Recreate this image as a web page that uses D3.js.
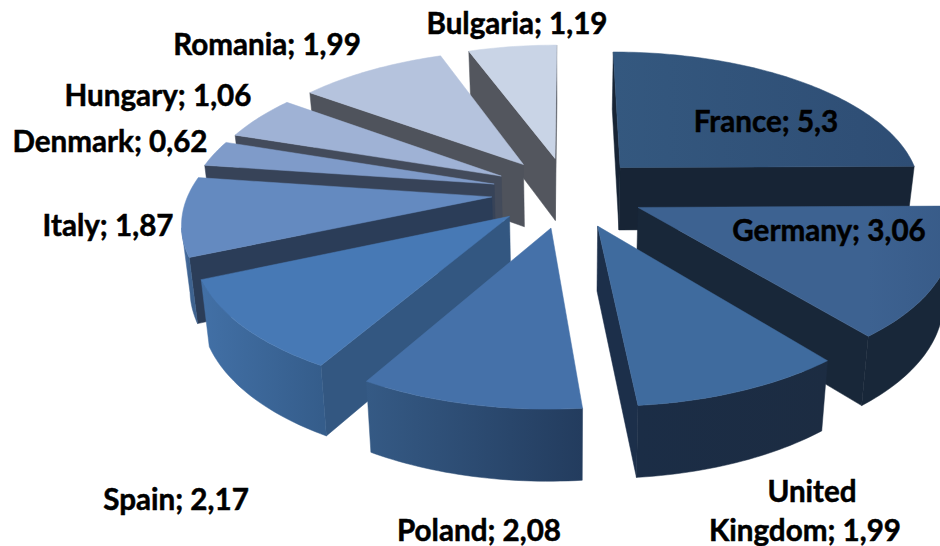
<!DOCTYPE html>
<html><head><meta charset="utf-8">
<style>body{margin:0;background:#fff}</style>
<script src="https://cdn.jsdelivr.net/npm/d3@7"></script></head>
<body><svg id="chart" width="940" height="546"></svg>
<script>
// Data
const categories = ["France","Germany","United Kingdom","Poland","Spain","Italy","Denmark","Hungary","Romania","Bulgaria"];
const values = [5.3,3.06,1.99,2.08,2.17,1.87,0.62,1.06,1.99,1.19];
const valueLabels = ["5,3","3,06","1,99","2,08","2,17","1,87","0,62","1,06","1,99","1,19"];

// Colours per slice: top face [left,right], radial wall, outer wall [left,right]
const topColors = [["#34587f","#2e4d74"],["#3d6291","#385b88"],["#3f6b9e","#3f6b9e"],["#4571a9","#4571a9"],["#4779b5","#4779b5"],["#648ac0","#648ac0"],["#7f9bc9","#7f9bc9"],["#9fb2d5","#9fb2d5"],["#b5c3dd","#b5c3dd"],["#c9d4e6","#c9d4e6"]];
const sideColors = ["#172435","#182739","#1c2f4a","#2a4568","#335781","#2b3d58","#374358","#434b5b","#4f535c","#53565e"];
const rimColors = [["#172435","#172435"],["#182739","#182739"],["#1b2d46","#1c2c42"],["#355a85","#233c5e"],["#4270a6","#355d8b"],["#4f76ad","#3d628f"],["#5e7ca7","#5e7ca7"],["#6f83a5","#6f83a5"],["#7d8aa3","#7d8aa3"],["#8a94a6","#8a94a6"]];

// Label anchors [x, baseline] for each line
const labelSpots = [[[766,132]],[[829,241]],[[812,502],[805,541]],[[479,541]],[[176,510]],[[108,236]],[[110,152]],[[158,106]],[[267,55]],[[517,34]]];

// Perspective of the pie, fitted to the picture
const view = { cx: 567.846, cy: 192.056, rx: 302.822, ry: 140.532, dist: 6.452, explode: 0.252, depth: 63.4, taper: 0.022 };

const svg = d3.select("#chart");
const defs = svg.append("defs");
const line = d3.line();
const arcs = d3.pie().sort(null).value(d => d)(values);

function ground(i, ang, r) {
  const m = (arcs[i].startAngle + arcs[i].endAngle) / 2;
  return [view.explode * Math.sin(m) + r * Math.sin(ang), view.explode * Math.cos(m) + r * Math.cos(ang)];
}
function upper([X, Y]) {
  const s = view.dist / (view.dist + Y);
  return [view.cx + view.rx * X * s, view.cy - view.ry * Y * s];
}
function lower([X, Y]) {
  const s = view.dist / (view.dist + Y);
  const t = upper([X, Y]);
  return [view.cx + (t[0] - view.cx) * (1 - view.taper), t[1] + view.depth * Math.pow(s, 0.6)];
}
function gradient(id, cols, x0, x1) {
  const g = defs.append("linearGradient").attr("id", id).attr("gradientUnits", "userSpaceOnUse")
    .attr("x1", x0).attr("x2", x1).attr("y1", 0).attr("y2", 0);
  g.append("stop").attr("offset", 0).attr("stop-color", cols[0]);
  g.append("stop").attr("offset", 1).attr("stop-color", cols[1]);
  return `url(#${id})`;
}
function shape(pts, fill) {
  svg.append("path").attr("d", line(pts) + "Z").attr("fill", fill)
    .attr("stroke", fill).attr("stroke-width", 0.5).attr("stroke-linejoin", "round");
}
function faces(P, n) { return n[0] * (-P[0]) + n[1] * (-view.dist - P[1]) > 0; }

// Far slices first so the near ones paint over them
const order = d3.range(values.length).sort((a, b) => ground(b, 0, 0)[1] - ground(a, 0, 0)[1]);

order.forEach(i => {
  const a = arcs[i];
  const apex = ground(i, 0, 0);
  const angles = d3.range(a.startAngle, a.endAngle, 0.02).concat(a.endAngle);
  const rim = angles.map(t => ground(i, t, 1));
  const xs = d3.extent(rim.map(upper), d => d[0]);

  // radial walls that face the viewer
  [[a.startAngle, [-Math.cos(a.startAngle), Math.sin(a.startAngle)]], [a.endAngle, [Math.cos(a.endAngle), -Math.sin(a.endAngle)]]].forEach(([t, n]) => {
    if (!faces(apex, n)) return;
    const e = ground(i, t, 1);
    shape([upper(apex), upper(e), lower(e), lower(apex)], sideColors[i]);
  });

  // outer wall, front part only
  const front = angles.filter(t => faces(ground(i, t, 1), [Math.sin(t), Math.cos(t)])).map(t => ground(i, t, 1));
  if (front.length > 1) {
    const fx = d3.extent(front.map(upper), d => d[0]);
    shape(front.map(upper).concat(front.map(lower).reverse()), gradient("rim" + i, rimColors[i], fx[0], fx[1]));
  }

  // top face
  shape([upper(apex)].concat(rim.map(upper)), gradient("top" + i, topColors[i], xs[0], xs[1]));
});

// Labels
categories.forEach((c, i) => {
  const text = c + "; " + valueLabels[i];
  const lines = labelSpots[i].length > 1 ? ["United", "Kingdom; " + valueLabels[i]] : [text];
  lines.forEach((l, j) => {
    svg.append("text").attr("x", labelSpots[i][j][0]).attr("y", labelSpots[i][j][1])
      .attr("text-anchor", "middle").attr("font-family", "Lato, sans-serif").attr("font-weight", 700)
      .attr("font-size", 29.6).attr("fill", "#000").attr("stroke", "#000").attr("stroke-width", 0.5).text(l);
  });
});
</script></body></html>
